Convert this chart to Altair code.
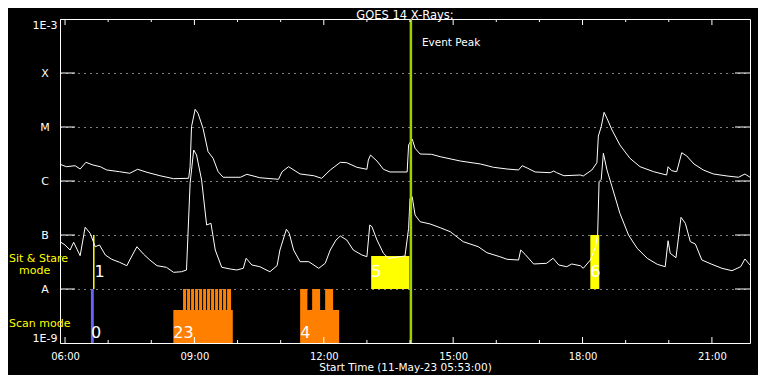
import altair as alt
import pandas as pd

DAY = "2023-05-11 "

# ---- GOES 14 long channel (1-8 A), upper curve: clock time, log10 flux (W/m^2)
long_time = ["05:53", "06:02", "06:14", "06:21", "06:29", "06:39", "06:49", "06:58", "07:16", "07:30",
             "07:41", "07:54", "08:12", "08:31", "08:52", "08:54", "08:56", "09:01", "09:05", "09:12",
             "09:19", "09:26", "09:33", "09:40", "10:04", "10:13", "10:31", "10:57", "11:02", "11:11",
             "11:27", "11:46", "11:57", "12:09", "12:23", "12:32", "12:46", "13:00", "13:02", "13:05",
             "13:14", "13:23", "13:32", "13:56", "13:58", "14:03", "14:07", "14:14", "14:30", "14:42",
             "15:10", "15:38", "15:56", "16:15", "16:31", "16:36", "16:43", "16:54", "17:15", "17:20",
             "17:24", "17:34", "17:57", "18:01", "18:13", "18:20", "18:22", "18:26", "18:30", "18:34",
             "18:41", "18:52", "19:06", "19:20", "19:39", "19:57", "19:59", "20:04", "20:11", "20:18",
             "20:25", "20:35", "20:48", "21:02", "21:21", "21:37", "21:46", "21:53"]
long_logf = [-5.691, -5.735, -5.717, -5.778, -5.654, -5.704, -5.735, -5.796, -5.828, -5.857,
             -5.783, -5.839, -5.902, -5.957, -5.950, -5.735, -4.994, -4.672, -4.746, -5.024,
             -5.457, -5.580, -5.828, -5.931, -5.931, -5.876, -5.939, -5.969, -5.828, -5.735,
             -5.870, -5.902, -5.950, -5.796, -5.654, -5.661, -5.746, -5.783, -5.611, -5.519,
             -5.630, -5.783, -5.833, -5.833, -5.333, -5.222, -5.394, -5.500, -5.506, -5.550,
             -5.630, -5.685, -5.746, -5.778, -5.796, -5.717, -5.759, -5.833, -5.846, -5.815,
             -5.846, -5.902, -5.889, -5.907, -5.796, -5.661, -5.167, -4.994, -4.728, -4.839,
             -5.056, -5.333, -5.580, -5.735, -5.828, -5.889, -5.735, -5.809, -5.828, -5.476,
             -5.537, -5.685, -5.796, -5.870, -5.907, -5.931, -5.870, -5.931]

# ---- GOES 14 short channel (0.5-4 A), lower curve
short_time = ["05:53", "06:00", "06:07", "06:12", "06:21", "06:28", "06:35", "06:42", "06:48", "06:56",
              "07:05", "07:16", "07:26", "07:30", "07:40", "07:49", "07:58", "08:08", "08:21", "08:31",
              "08:42", "08:49", "08:54", "08:59", "09:03", "09:10", "09:17", "09:23", "09:29", "09:38",
              "09:50", "09:59", "10:08", "10:12", "10:20", "10:31", "10:45", "10:55", "10:59", "11:08",
              "11:12", "11:18", "11:27", "11:39", "11:53", "12:02", "12:09", "12:17", "12:23", "12:32",
              "12:41", "12:53", "13:00", "13:04", "13:07", "13:14", "13:23", "13:30", "13:53", "13:58",
              "14:00", "14:03", "14:07", "14:14", "14:28", "14:42", "14:56", "15:14", "15:35", "15:47",
              "16:05", "16:15", "16:31", "16:34", "16:40", "16:52", "17:10", "17:19", "17:27", "17:38",
              "17:45", "17:57", "18:01", "18:11", "18:18", "18:21", "18:23", "18:26", "18:29", "18:34",
              "18:41", "18:52", "19:04", "19:16", "19:30", "19:44", "19:55", "19:59", "20:02", "20:10",
              "20:17", "20:23", "20:30", "20:37", "20:46", "21:00", "21:14", "21:28", "21:40", "21:46",
              "21:53"]
short_logf = [-7.124, -7.185, -7.278, -7.135, -7.383, -6.857, -6.969, -7.217, -7.185, -7.370,
              -7.450, -7.506, -7.569, -7.463, -7.217, -7.352, -7.463, -7.569, -7.598, -7.691,
              -7.680, -7.648, -6.043, -5.426, -5.519, -5.981, -6.815, -6.783, -7.278, -7.598,
              -7.630, -7.648, -7.617, -7.431, -7.556, -7.587, -7.680, -7.569, -7.278, -6.894,
              -6.969, -7.278, -7.494, -7.494, -7.617, -7.524, -7.278, -7.093, -7.019, -7.093,
              -7.278, -7.370, -7.402, -6.815, -6.846, -7.093, -7.339, -7.431, -7.389, -6.876,
              -6.320, -6.291, -6.630, -6.754, -6.796, -6.865, -6.939, -7.124, -7.217, -7.328,
              -7.402, -7.450, -7.463, -7.278, -7.357, -7.537, -7.524, -7.431, -7.556, -7.587,
              -7.537, -7.569, -7.617, -7.463, -7.217, -7.000, -6.013, -5.969, -5.487, -5.796,
              -6.106, -6.598, -7.000, -7.246, -7.431, -7.543, -7.587, -7.106, -7.339, -7.420,
              -6.672, -6.783, -7.124, -7.167, -7.463, -7.543, -7.617, -7.661, -7.587, -7.444,
              -7.556]

# ---- observing-mode blocks (scan mode: blue/orange, sit & stare: yellow)
seg_start = ["06:36:00", "08:30:42",
             "08:44:12", "08:49:48", "08:55:24", "09:00:54", "09:06:30", "09:12:06",
             "09:17:36", "09:23:12", "09:28:48", "09:34:18", "09:39:54", "09:45:30",
             "11:27:06", "11:27:06", "11:43:48", "12:01:54",
             "13:05:54", "18:10:48"]
seg_end = ["06:40:00", "09:53:24",
           "08:48:24", "08:54:00", "08:59:30", "09:05:06", "09:10:42", "09:16:12",
           "09:21:48", "09:27:24", "09:32:54", "09:38:30", "09:44:06", "09:51:00",
           "12:21:24", "11:37:12", "11:54:54", "12:13:00",
           "13:59:12", "18:23:18"]
seg_lo = [-9, -9,
          -8.389, -8.389, -8.389, -8.389, -8.389, -8.389,
          -8.389, -8.389, -8.389, -8.389, -8.389, -8.389,
          -9, -8.389, -8.389, -8.389,
          -8, -8]
seg_hi = [-8, -8.389,
          -8, -8, -8, -8, -8, -8,
          -8, -8, -8, -8, -8, -8,
          -8.389, -8, -8, -8,
          -7.389, -7]
seg_color = ["#6464ff", "#ff8000",
             "#ff8000", "#ff8000", "#ff8000", "#ff8000", "#ff8000", "#ff8000",
             "#ff8000", "#ff8000", "#ff8000", "#ff8000", "#ff8000", "#ff8000",
             "#ff8000", "#ff8000", "#ff8000", "#ff8000",
             "#ffff00", "#ffff00"]

stare_line_time = ["06:40:00"]
stare_line_lo = [-8]
stare_line_hi = [-7]

num_text = ["0", "1", "23", "4", "5", "6"]
num_time = ["06:36:00", "06:41:00", "08:30:42", "11:27:06", "13:05:54", "18:10:48"]
num_logf = [-8.815, -7.68, -8.815, -8.815, -7.68, -7.68]

event_time = ["14:01:12"]
event_label = ["Event Peak"]
event_label_logf = [-3.444]

mode_text = ["Sit & Stare", "Scan mode"]
mode_logf = [-7.444, -8.648]
mode2_text = ["mode"]
mode2_logf = [-7.667]

major_hours = [6, 9, 12, 15, 18, 21]
major_ticks = ["06:00", "09:00", "12:00", "15:00", "18:00", "21:00"]
minor_ticks = ["07:00", "08:00", "10:00", "11:00", "13:00", "14:00", "16:00", "17:00", "19:00", "20:00"]
decades = [1e-9, 1e-8, 1e-7, 1e-6, 1e-5, 1e-4, 1e-3]
inner_decades = [1e-8, 1e-7, 1e-6, 1e-5, 1e-4]


def ts(lst):
    return pd.to_datetime([DAY + (t if len(t) == 8 else t + ":00") for t in lst],
                          format="%Y-%m-%d %H:%M:%S")


def pw(lst):
    return [10.0 ** v for v in lst]


curve_df = pd.concat([
    pd.DataFrame({"t": ts(long_time), "f": pw(long_logf), "band": "long"}),
    pd.DataFrame({"t": ts(short_time), "f": pw(short_logf), "band": "short"}),
])
seg_df = pd.DataFrame({"start": ts(seg_start), "end": ts(seg_end),
                       "lo": pw(seg_lo), "hi": pw(seg_hi), "color": seg_color})
stare_df = pd.DataFrame({"t": ts(stare_line_time), "lo": pw(stare_line_lo), "hi": pw(stare_line_hi)})
num_df = pd.DataFrame({"t": ts(num_time), "f": pw(num_logf), "label": num_text})
event_df = pd.DataFrame({"t": ts(event_time), "f": pw(event_label_logf), "label": event_label})
mode_df = pd.DataFrame({"f": pw(mode_logf), "label": mode_text})
mode2_df = pd.DataFrame({"f": pw(mode2_logf), "label": mode2_text})
major_df = pd.DataFrame({"t": ts(major_ticks)})
minor_df = pd.DataFrame({"t": ts(minor_ticks)})
dec_df = pd.DataFrame({"f": inner_decades})

FONT = "DejaVu Sans"
W, H = 690, 324

xscale = alt.Scale(domain=[alt.DateTime(year=2023, month=5, date=11, hours=5, minutes=53),
                           alt.DateTime(year=2023, month=5, date=11, hours=21, minutes=53)])
yscale = alt.Scale(type="log", domain=[1e-9, 1e-3], nice=False)

xaxis = alt.Axis(values=[alt.DateTime(year=2023, month=5, date=11, hours=h) for h in major_hours],
                 format="%H:%M", ticks=False, tickSize=0, domain=False, grid=False,
                 labelFlush=False, labelFontSize=10, labelPadding=8, labelColor="white",
                 labelFont=FONT, title="Start Time (11-May-23 05:53:00)", titleColor="white",
                 titleFont=FONT, titleFontSize=10.5, titleFontWeight="normal", titlePadding=1)
yaxis = alt.Axis(values=decades,
                 labelExpr=("datum.value >= 9e-4 ? '1E-3' : datum.value >= 9e-5 ? 'X' : "
                            "datum.value >= 9e-6 ? 'M' : datum.value >= 9e-7 ? 'C' : "
                            "datum.value >= 9e-8 ? 'B' : datum.value >= 9e-9 ? 'A' : '1E-9'"),
                 ticks=False, tickSize=0, domain=False, grid=True, gridColor="white",
                 gridDash=[1, 5], gridWidth=1, gridOpacity=1, labelAlign="center",
                 labelPadding=15.5, labelFlush=True, labelColor="white", labelFont=FONT,
                 labelFontSize=11, title="")

X_T = alt.X("t:T", scale=xscale)
Y_F = alt.Y("f:Q", scale=yscale)

rects = alt.Chart(seg_df).mark_rect(strokeWidth=0).encode(
    x=alt.X("start:T", scale=xscale, axis=xaxis),
    x2="end:T",
    y=alt.Y("lo:Q", scale=yscale, axis=yaxis),
    y2="hi:Q",
    color=alt.Color("color:N", scale=None),
)
stare = alt.Chart(stare_df).mark_rule(color="#ffff00", strokeWidth=1.5).encode(
    x=X_T,
    y=alt.Y("lo:Q", scale=yscale),
    y2="hi:Q",
)
lines = alt.Chart(curve_df).mark_line(color="white", strokeWidth=1).encode(
    x=X_T, y=Y_F, detail="band:N",
)
event_rule = alt.Chart(event_df).mark_rule(color="#a0d000", strokeWidth=2.5).encode(x=X_T)
event_text = alt.Chart(event_df).mark_text(align="left", baseline="middle", dx=11, color="white",
                                           font=FONT, fontSize=10.5).encode(
    x=X_T, y=Y_F, text="label:N",
)
nums = alt.Chart(num_df).mark_text(align="left", baseline="middle", color="white", font=FONT,
                                   fontSize=16).encode(
    x=X_T, y=Y_F, text="label:N",
)
modes = alt.Chart(mode_df).mark_text(align="left", baseline="middle", color="#ffff00", font=FONT,
                                     fontSize=11).encode(
    x=alt.value(-51), y=Y_F, text="label:N",
)
modes2 = alt.Chart(mode2_df).mark_text(align="left", baseline="middle", color="#ffff00", font=FONT,
                                       fontSize=11).encode(
    x=alt.value(-41), y=Y_F, text="label:N",
)


def xticks(df, y0, y1):
    return alt.Chart(df).mark_rule(color="white", strokeWidth=1).encode(
        x=X_T, y=alt.value(y0), y2=alt.value(y1))


def yticks(x0, x1):
    return alt.Chart(dec_df).mark_rule(color="white", strokeWidth=1).encode(
        y=Y_F, x=alt.value(x0), x2=alt.value(x1))


chart = alt.layer(
    rects, stare, lines, event_rule, event_text, nums, modes, modes2,
    xticks(major_df, 0, 6), xticks(minor_df, 0, 3),
    xticks(major_df, H, H - 6), xticks(minor_df, H, H - 3),
    yticks(0, 15), yticks(W - 15, W),
).properties(
    width=W, height=H,
    title=alt.TitleParams(text="GOES 14 X-Rays:", color="white", font=FONT, fontSize=11.5,
                          fontWeight="normal", anchor="middle", frame="group", offset=-3.5),
    autosize=alt.AutoSizeParams(type="none"),
    padding={"left": 52, "top": 11, "right": 8, "bottom": 32},
    background="black",
).configure_view(stroke="white", strokeWidth=1)

chart.save("out.html", embed_options={"renderer": "svg", "actions": False})
